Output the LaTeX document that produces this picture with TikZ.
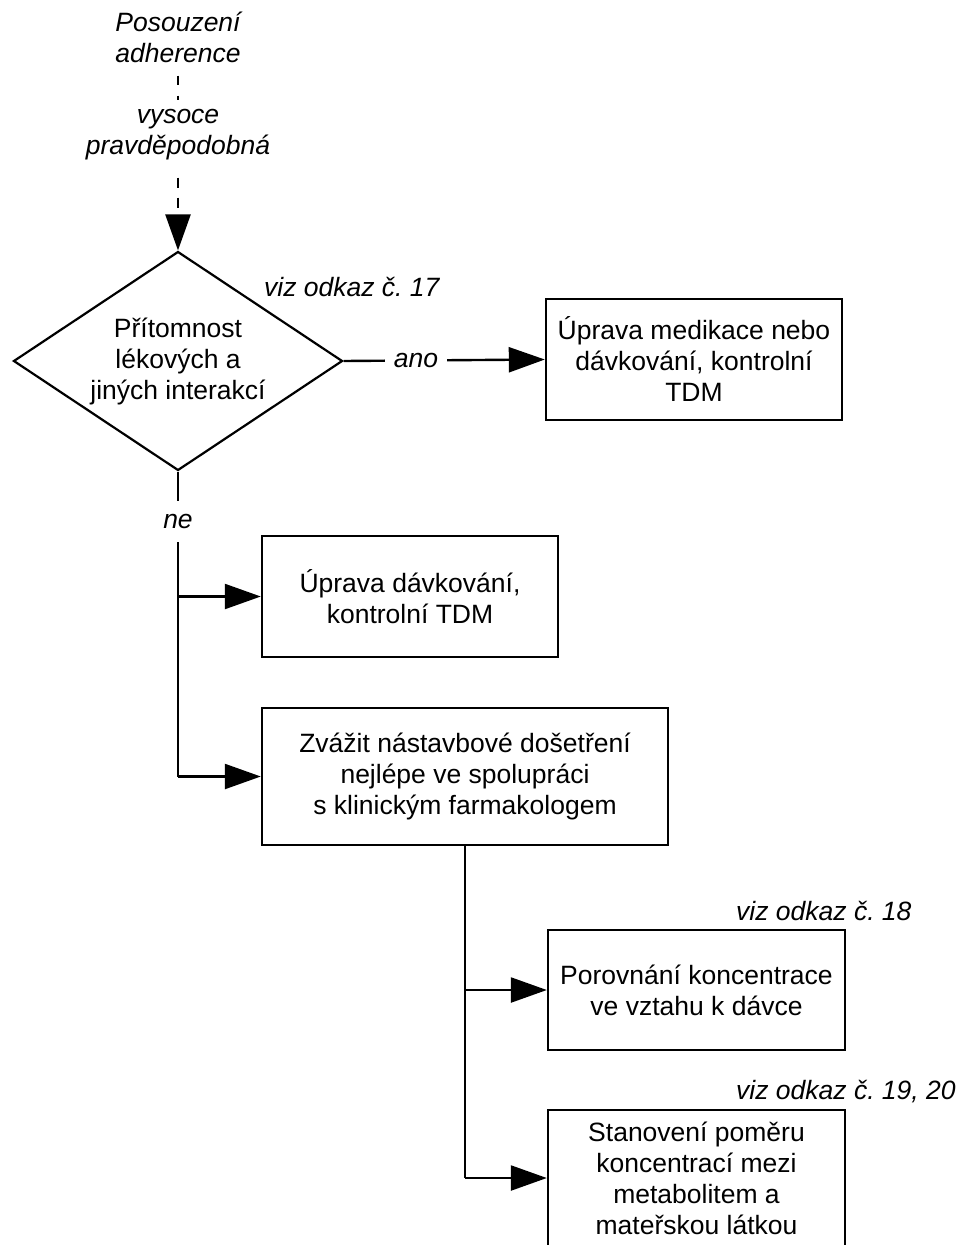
\documentclass[tikz,border=0pt]{standalone}
\usepackage{fontspec}
\setmainfont{Liberation Sans}
\frenchspacing
\usetikzlibrary{arrows.meta,shapes.geometric}
\tikzset{
  txt/.style={font=\fontsize{26.5}{31}\selectfont, align=center, inner sep=0pt},
  itxt/.style={font=\fontsize{26.5}{31}\selectfont\itshape, align=center, inner sep=0pt},
  box/.style={draw, line width=2.4pt, font=\fontsize{26.5}{31}\selectfont, align=center,
              inner sep=0pt, minimum width=296pt, minimum height=121pt},
  dec/.style={draw, diamond, aspect=1.5, line width=2.2pt, inner sep=0pt,
              minimum width=329pt, minimum height=219pt,
              font=\fontsize{26.5}{31}\selectfont, align=center},
  conn/.style={line width=2.4pt},
  arr/.style={line width=2.4pt, -{Triangle[length=36pt,width=25pt]}},
  lbl/.style={fill=white, font=\fontsize{26.5}{31}\selectfont\itshape,
              inner xsep=9pt, inner ysep=13pt},
}
\begin{document}
\begin{tikzpicture}[x=1pt,y=-1pt]
\useasboundingbox[fill=white] (0,0) rectangle (960,1245);
\clip (0,0) rectangle (960,1245);

% texts and nodes
\node[itxt] (t1) at (178,37) {Posouzení\\adherence};
\node[itxt] (t2) at (178,135) {vysoce\\pravděpodobná};
\node[dec] (d) at (178,361) {Přítomnost\\lékových a\\jiných interakcí};
\node[itxt, anchor=west] (r17) at (264,287) {viz odkaz č. 17};

\node[box] (b1) at (694,359.5) {Úprava medikace nebo\\dávkování, kontrolní\\TDM};
\node[box] (b2) at (410,596.5) {Úprava dávkování,\\kontrolní TDM};
\node[box, minimum width=406pt, minimum height=137pt] (b3) at (465,776.5) {Zvážit nástavbové došetření\\nejlépe ve spolupráci\\s klinickým farmakologem};

\node[itxt, anchor=west] (r18) at (736,911) {viz odkaz č. 18};
\node[box, minimum width=297pt, minimum height=120pt] (b4) at (696.5,990) {Porovnání koncentrace\\ve vztahu k dávce};
\node[itxt, anchor=west] (r19) at (736,1092) {viz odkaz č. 19, 20};
\node[box, minimum width=297pt, minimum height=136pt] (b5) at (696.5,1178) {Stanovení poměru\\koncentrací mezi\\metabolitem a\\mateřskou látkou};

% dashed connectors
\draw[conn, dash pattern=on 9pt off 11pt, shorten <=13pt, shorten >=9pt] (t1) -- (t2);
\draw[arr, dash pattern=on 10pt off 10pt, shorten <=17pt] (t2) -- (d.north);

% ano
\draw[arr] (d.east) -- node[lbl, pos=0.36] {ano} (b1.west);

% ne trunk
\coordinate (j1) at (d.south |- b2.west);
\coordinate (j2) at (d.south |- b3.west);
\draw[conn] (d.south) -- node[lbl, pos=0.163] {ne} (j2);
\draw[arr] (j1) -- (b2.west);
\draw[arr] (j2) -- (b3.west);

% second trunk
\coordinate (j3) at (b3.south |- b4.west);
\coordinate (j4) at (b3.south |- b5.west);
\draw[conn] (b3.south) -- (j4);
\draw[arr] (j3) -- (b4.west);
\draw[arr] (j4) -- (b5.west);
\end{tikzpicture}
\end{document}
